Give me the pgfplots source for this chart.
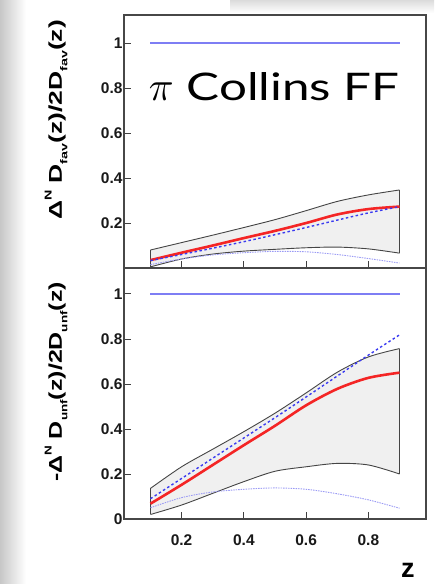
\documentclass[border=0pt]{standalone}
\usepackage{pgfplots}
\pgfplotsset{compat=1.18}
\usepackage{fontspec}
\setmainfont{Liberation Sans}
\newfontfamily\lato{Lato}
\definecolor{bandfill}{HTML}{F0F0F0}
\definecolor{bandline}{HTML}{454545}
\definecolor{redc}{HTML}{F42525}
\definecolor{bluec}{HTML}{3A3AF0}
\definecolor{flatc}{HTML}{7E7EF4}
\definecolor{lightb}{HTML}{9A9AF4}
\newcommand{\sub}[1]{\raisebox{-0.3em}{\fontsize{10}{10}\selectfont #1}}
\newcommand{\sups}[1]{\raisebox{0.55em}{\fontsize{10}{10}\selectfont #1}}
\pgfplotsset{
  panel/.style={
    scale only axis, width=302pt,
    xmin=0.015, xmax=0.985, ymin=0,
    axis line style={draw=black!72, line width=1.3pt},
    tick align=inside, major tick length=7pt,
    tick style={draw=black!75, line width=0.8pt},
    xtick={0.2,0.4,0.6,0.8},
    xtick pos=lower, ytick pos=left,
    /pgf/number format/assume math mode=true,
    tick label style={font=\bfseries\fontsize{15.5}{15.5}\selectfont, text=black!90},
    yticklabel style={xshift=2pt},
    xticklabel style={yshift=-12pt},
    clip=false,
  },
  bandf/.style={fill=bandfill, draw=none},
  bandl/.style={draw=bandline, line width=0.9pt, smooth},
  edgel/.style={draw=bandline, line width=0.9pt},
  redl/.style={draw=redc, line width=2.6pt, smooth},
  bluel/.style={draw=bluec, line width=1.4pt, dash pattern=on 2.5pt off 2.5pt, smooth},
  flatl/.style={draw=flatc, line width=2.6pt},
  lightl/.style={draw=lightb, line width=0.9pt, dash pattern=on 1.5pt off 1pt, smooth},
}
\begin{document}
\begin{tikzpicture}[x=1pt,y=1pt]
\useasboundingbox (0,0) rectangle (434,584);
\shade[left color=black!22, right color=white] (0,0) rectangle (26,584);
\shade[top color=black!14, bottom color=white] (230,571) rectangle (434,584);

% ---------------- top panel ----------------
\begin{axis}[panel, height=253pt, ymax=1.125,
  at={(124pt,316pt)}, anchor=south west,
  xticklabels={},
  ytick={0.2,0.4,0.6,0.8,1}, yticklabels={0.2,0.4,0.6,0.8,1},
  ylabel={\resizebox{200pt}{\height}{\bfseries\fontsize{18.5}{18.5}\selectfont Δ\sups{N} D\sub{fav}(z)/2D\sub{fav}(z)}},
  ylabel style={at={(axis description cs:-0.225,0.585)}, anchor=center},
]
\addplot[bandf] coordinates {
 (0.1,0.080) (0.2,0.113) (0.3,0.146) (0.4,0.180) (0.5,0.215) (0.6,0.255) (0.7,0.296) (0.8,0.325) (0.9,0.347)
 (0.9,0.066) (0.8,0.085) (0.7,0.093) (0.6,0.090) (0.5,0.083) (0.4,0.075) (0.3,0.062) (0.2,0.040) (0.1,0.005)} -- cycle;
\addplot[bandl] coordinates {
 (0.1,0.080) (0.2,0.113) (0.3,0.146) (0.4,0.180) (0.5,0.215) (0.6,0.255) (0.7,0.296) (0.8,0.325) (0.9,0.347)};
\addplot[bandl] coordinates {
 (0.1,0.005) (0.2,0.040) (0.3,0.062) (0.4,0.075) (0.5,0.083) (0.6,0.090) (0.7,0.093) (0.8,0.085) (0.9,0.066)};
\addplot[edgel] coordinates {(0.1,0.005) (0.1,0.080)};
\addplot[edgel] coordinates {(0.9,0.066) (0.9,0.347)};
\addplot[lightl] coordinates {
 (0.1,0.015) (0.2,0.040) (0.3,0.058) (0.4,0.068) (0.5,0.074) (0.6,0.072) (0.7,0.060) (0.8,0.042) (0.9,0.022)};
\addplot[redl] coordinates {
 (0.1,0.035) (0.2,0.068) (0.3,0.100) (0.4,0.133) (0.5,0.165) (0.6,0.200) (0.7,0.238) (0.8,0.262) (0.9,0.273)};
\addplot[bluel] coordinates {
 (0.1,0.033) (0.2,0.060) (0.3,0.088) (0.4,0.117) (0.5,0.148) (0.6,0.180) (0.7,0.213) (0.8,0.245) (0.9,0.273)};
\addplot[flatl] coordinates {(0.1,1) (0.9,1)};
\node[anchor=base west, inner sep=0pt] at (axis cs:0.094,0.747)
  {\scalebox{4.1}{$\pi$}\hspace{13pt}\resizebox{213pt}{\height}{\lato\fontsize{38}{38}\selectfont Collins FF}};
\end{axis}

% ---------------- bottom panel ----------------
\begin{axis}[panel, height=251pt, ymax=1.115,
  at={(124pt,65pt)}, anchor=south west,
  xticklabels={0.2,0.4,0.6,0.8},
  ytick={0,0.2,0.4,0.6,0.8,1}, yticklabels={0,0.2,0.4,0.6,0.8,1},
  ylabel={\resizebox{200pt}{\height}{\bfseries\fontsize{18.5}{18.5}\selectfont -Δ\sups{N} D\sub{unf}(z)/2D\sub{unf}(z)}},
  ylabel style={at={(axis description cs:-0.225,0.546)}, anchor=center},
  xlabel={\bfseries\fontsize{27}{27}\selectfont z},
  xlabel style={at={(axis description cs:0.94,-0.203)}, anchor=center},
]
\addplot[bandf] coordinates {
 (0.1,0.136) (0.2,0.232) (0.3,0.310) (0.4,0.388) (0.5,0.470) (0.6,0.560) (0.7,0.652) (0.8,0.720) (0.9,0.757)
 (0.9,0.200) (0.8,0.240) (0.7,0.247) (0.6,0.232) (0.5,0.212) (0.4,0.166) (0.3,0.114) (0.2,0.062) (0.1,0.020)} -- cycle;
\addplot[bandl] coordinates {
 (0.1,0.136) (0.2,0.232) (0.3,0.310) (0.4,0.388) (0.5,0.470) (0.6,0.560) (0.7,0.652) (0.8,0.720) (0.9,0.757)};
\addplot[bandl] coordinates {
 (0.1,0.020) (0.2,0.062) (0.3,0.114) (0.4,0.166) (0.5,0.212) (0.6,0.232) (0.7,0.247) (0.8,0.240) (0.9,0.200)};
\addplot[edgel] coordinates {(0.1,0.020) (0.1,0.136)};
\addplot[edgel] coordinates {(0.9,0.200) (0.9,0.757)};
\addplot[lightl] coordinates {
 (0.1,0.050) (0.2,0.095) (0.3,0.120) (0.4,0.132) (0.5,0.138) (0.6,0.132) (0.7,0.112) (0.8,0.085) (0.9,0.048)};
\addplot[redl] coordinates {
 (0.1,0.068) (0.2,0.152) (0.3,0.240) (0.4,0.328) (0.5,0.414) (0.6,0.505) (0.7,0.578) (0.8,0.627) (0.9,0.650)};
\addplot[bluel] coordinates {
 (0.1,0.090) (0.2,0.180) (0.3,0.270) (0.4,0.360) (0.5,0.450) (0.6,0.542) (0.7,0.635) (0.8,0.728) (0.9,0.818)};
\addplot[flatl] coordinates {(0.1,1) (0.9,1)};
\end{axis}
\end{tikzpicture}
\end{document}
